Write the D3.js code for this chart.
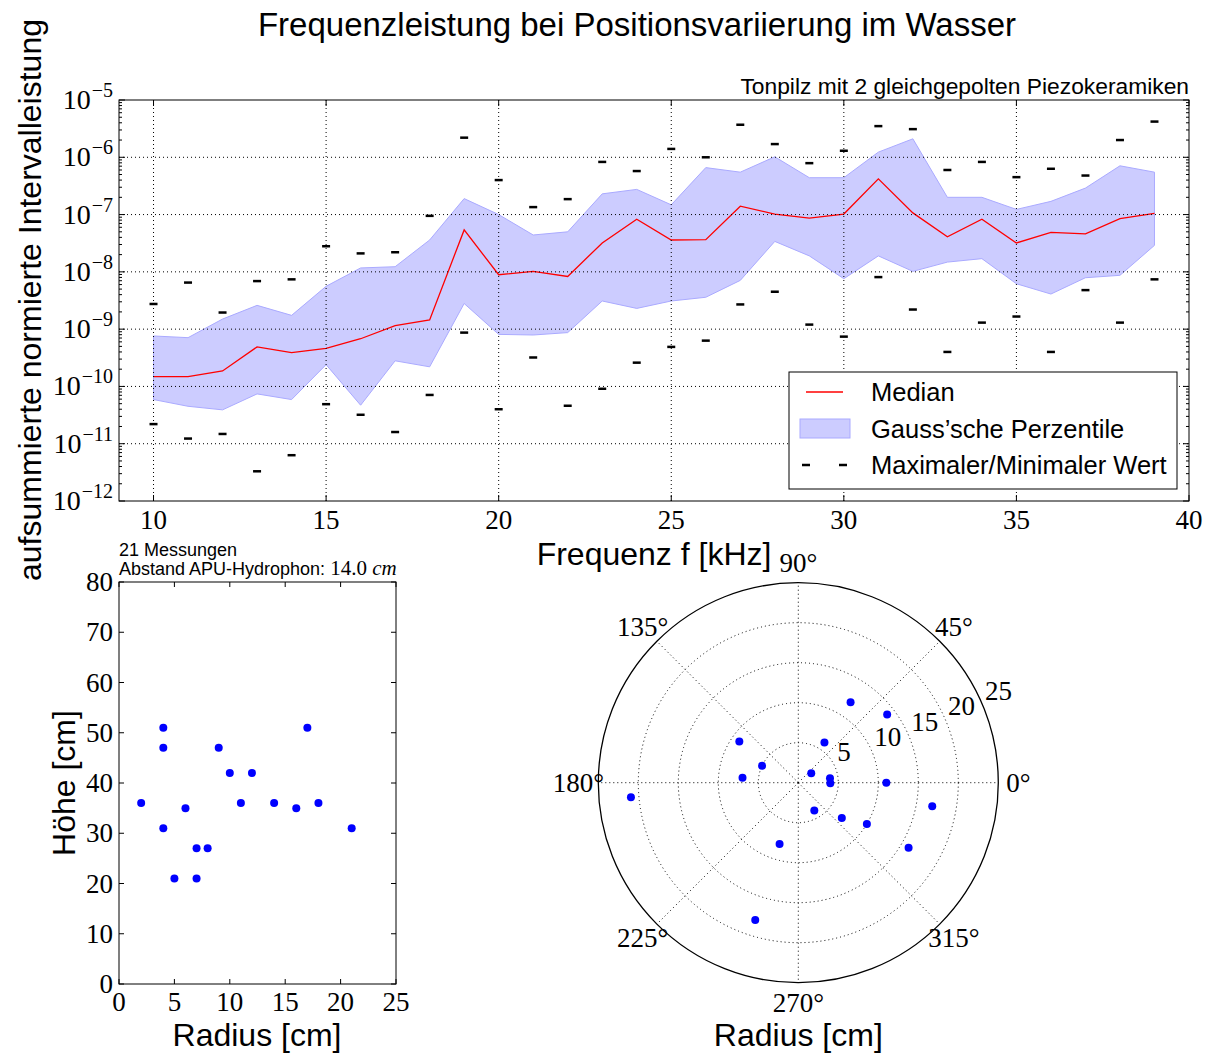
<!DOCTYPE html>
<html>
<head>
<meta charset="utf-8">
<script src="https://cdn.jsdelivr.net/npm/d3@7"></script>
<style>
  body { margin: 0; background: #fff; }
  text { font-family: "Liberation Sans", Arial, sans-serif; fill: #000; }
  .num { font-family: "Liberation Serif", serif; }
</style>
</head>
<body>
<svg width="1214" height="1053"></svg>
<script>
// frequency sweep, kHz
const freq = [10, 11, 12, 13, 14, 15, 16, 17, 18, 19, 20, 21, 22, 23, 24,
  25, 26, 27, 28, 29, 30, 31, 32, 33, 34, 35, 36, 37, 38, 39]

const median = [1.48e-10, 1.48e-10, 1.86e-10, 4.9e-10, 3.9e-10, 4.6e-10, 6.8e-10,
  1.15e-9, 1.45e-9, 5.4e-8, 8.9e-9, 1.02e-8, 8.3e-9, 3.2e-8, 8.3e-8, 3.6e-8,
  3.65e-8, 1.4e-7, 1.02e-7, 8.7e-8, 1.02e-7, 4.2e-7, 1.07e-7, 4.1e-8, 8.3e-8,
  3.2e-8, 4.9e-8, 4.6e-8, 8.5e-8, 1.05e-7]

const upper = [7.6e-10, 7.1e-10, 1.5e-9, 2.6e-9, 1.74e-9, 5.6e-9, 1.17e-8, 1.23e-8,
  3.6e-8, 1.9e-7, 1.0e-7, 4.4e-8, 5.0e-8, 2.3e-7, 2.75e-7, 1.48e-7, 6.6e-7,
  5.5e-7, 1.02e-6, 4.4e-7, 4.4e-7, 1.23e-6, 2.1e-6, 2.0e-7, 2.0e-7, 1.23e-7,
  1.7e-7, 2.9e-7, 7.1e-7, 5.5e-7]

const lower = [5.9e-11, 4.5e-11, 3.9e-11, 7.4e-11, 5.9e-11, 2.4e-10, 4.7e-11, 2.8e-10,
  2.2e-10, 2.8e-9, 8.1e-10, 7.9e-10, 8.7e-10, 3.1e-9, 2.3e-9, 3.1e-9, 3.6e-9,
  7.1e-9, 3.4e-8, 1.9e-8, 7.6e-9, 1.9e-8, 1.02e-8, 1.48e-8, 1.7e-8, 6.2e-9,
  4.1e-9, 7.9e-9, 8.7e-9, 2.9e-8]

const maxVal = [2.75e-9, 6.5e-9, 1.95e-9, 6.9e-9, 7.4e-9, 2.8e-8, 2.1e-8, 2.2e-8,
  9.5e-8, 2.2e-6, 4.0e-7, 1.35e-7, 1.86e-7, 8.3e-7, 5.75e-7, 1.4e-6, 1.0e-6,
  3.7e-6, 1.7e-6, 7.9e-7, 1.3e-6, 3.5e-6, 3.1e-6, 6.0e-7, 8.3e-7, 4.5e-7,
  6.3e-7, 4.8e-7, 2.0e-6, 4.2e-6]

const minVal = [2.2e-11, 1.23e-11, 1.48e-11, 3.3e-12, 6.3e-12, 4.9e-11, 3.2e-11, 1.6e-11,
  7.1e-11, 8.7e-10, 4.0e-11, 3.2e-10, 4.6e-11, 9.1e-11, 2.6e-10, 4.9e-10, 6.3e-10,
  2.7e-9, 4.5e-9, 1.2e-9, 7.4e-10, 8.1e-9, 2.2e-9, 4.0e-10, 1.3e-9, 1.66e-9,
  4.0e-10, 4.8e-9, 1.3e-9, 7.4e-9]

// measurement positions
const radius = [2, 4, 4, 4, 5, 6, 7, 7, 8, 9, 10, 11, 12, 14, 16, 17, 18, 21]
const height = [36, 51, 47, 31, 21, 35, 27, 21, 27, 47, 42, 36, 42, 36, 35, 51, 36, 31]
const angle = [36, 8, -1, -60, 155, 57, 175, -39, 253, 145, -31, 0, 57, 37.5, -30.5, -10, 252.6, 185]

const fTicks = [10, 15, 20, 25, 30, 35, 40]
const decades = [-12, -11, -10, -9, -8, -7, -6, -5]
const rTicks = [0, 5, 10, 15, 20, 25]
const hTicks = [0, 10, 20, 30, 40, 50, 60, 70, 80]
const thetaTicks = [0, 45, 90, 135, 180, 225, 270, 315]
const ringTicks = [5, 10, 15, 20, 25]

var svg = d3.select("svg")

svg.append("text")
  .attr("x", 637).attr("y", 36)
  .attr("text-anchor", "middle")
  .style("font-size", "33px")
  .text("Frequenzleistung bei Positionsvariierung im Wasser")

// ---------- top: spectrum ----------
var
  x = d3.scaleLinear().domain([9, 40]).range([119, 1189]),
  y = d3.scaleLog().domain([1e-12, 1e-5]).range([501, 100])

var spec = svg.append("g")

spec.append("path")
  .datum(freq.map((f, i) => ({ f: f, lo: lower[i], hi: upper[i] })))
  .attr("d", d3.area().x(d => x(d.f)).y0(d => y(d.lo)).y1(d => y(d.hi)))
  .attr("fill", "#ccccff")
  .attr("stroke", "#aaaaff")
  .attr("stroke-width", 1)

spec.append("path")
  .datum(freq.map((f, i) => [f, median[i]]))
  .attr("d", d3.line().x(d => x(d[0])).y(d => y(d[1])))
  .attr("fill", "none")
  .attr("stroke", "red")
  .attr("stroke-width", 1.3)

var extremes = freq.map((f, i) => [f, maxVal[i]]).concat(freq.map((f, i) => [f, minVal[i]]))
spec.selectAll(".mark").data(extremes).enter().append("line")
  .attr("x1", d => x(d[0]) - 4).attr("x2", d => x(d[0]) + 4)
  .attr("y1", d => y(d[1])).attr("y2", d => y(d[1]))
  .attr("stroke", "#000").attr("stroke-width", 2.5)

// grid
spec.selectAll(".gx").data(fTicks.slice(0, -1)).enter().append("line")
  .attr("x1", d => x(d)).attr("x2", d => x(d))
  .attr("y1", 100).attr("y2", 501)
  .attr("stroke", "#000").attr("stroke-dasharray", "1,3")
spec.selectAll(".gy").data(decades.slice(1, -1)).enter().append("line")
  .attr("x1", 119).attr("x2", 1189)
  .attr("y1", d => y(Math.pow(10, d))).attr("y2", d => y(Math.pow(10, d)))
  .attr("stroke", "#000").attr("stroke-dasharray", "1,3")

// ticks
fTicks.forEach(f => {
  spec.append("line").attr("x1", x(f)).attr("x2", x(f)).attr("y1", 501).attr("y2", 495).attr("stroke", "#000")
  spec.append("line").attr("x1", x(f)).attr("x2", x(f)).attr("y1", 100).attr("y2", 106).attr("stroke", "#000")
  spec.append("text").attr("class", "num")
    .attr("x", x(f)).attr("y", 529)
    .attr("text-anchor", "middle")
    .style("font-size", "27px")
    .text(f)
})
decades.forEach(e => {
  var yy = y(Math.pow(10, e))
  spec.append("line").attr("x1", 119).attr("x2", 125).attr("y1", yy).attr("y2", yy).attr("stroke", "#000")
  spec.append("line").attr("x1", 1189).attr("x2", 1183).attr("y1", yy).attr("y2", yy).attr("stroke", "#000")
  var t = spec.append("text").attr("class", "num")
    .attr("x", 113).attr("y", yy + 9)
    .attr("text-anchor", "end")
    .style("font-size", "28px")
  t.append("tspan").text("10")
  t.append("tspan").attr("dx", 1).attr("dy", -12).style("font-size", "20px").text("\u2212" + (-e))
  if (e < -5) {
    for (var m = 2; m < 10; m++) {
      var ym = y(m * Math.pow(10, e))
      spec.append("line").attr("x1", 119).attr("x2", 122).attr("y1", ym).attr("y2", ym).attr("stroke", "#000")
      spec.append("line").attr("x1", 1189).attr("x2", 1186).attr("y1", ym).attr("y2", ym).attr("stroke", "#000")
    }
  }
})

spec.append("rect")
  .attr("x", 119).attr("y", 100).attr("width", 1070).attr("height", 401)
  .attr("fill", "none").attr("stroke", "#000")

spec.append("text")
  .attr("x", 1189).attr("y", 94)
  .attr("text-anchor", "end")
  .style("font-size", "22.8px")
  .text("Tonpilz mit 2 gleichgepolten Piezokeramiken")

spec.append("text")
  .attr("x", 654).attr("y", 565)
  .attr("text-anchor", "middle")
  .style("font-size", "32px")
  .text("Frequenz f [kHz]")

spec.append("text")
  .attr("transform", "translate(41,300) rotate(-90)")
  .attr("text-anchor", "middle")
  .style("font-size", "32px")
  .text("aufsummierte normierte Intervalleistung")

// legend
var legend = spec.append("g")
legend.append("rect")
  .attr("x", 789).attr("y", 372).attr("width", 388).attr("height", 117)
  .attr("fill", "#fff").attr("stroke", "#000")
legend.append("line")
  .attr("x1", 806).attr("x2", 843).attr("y1", 392).attr("y2", 392)
  .attr("stroke", "red").attr("stroke-width", 1.3)
legend.append("rect")
  .attr("x", 800).attr("y", 419).attr("width", 50).attr("height", 19)
  .attr("fill", "#ccccff").attr("stroke", "#aaaaff")
;[806, 843].forEach(lx => {
  legend.append("line")
    .attr("x1", lx - 4).attr("x2", lx + 4).attr("y1", 465).attr("y2", 465)
    .attr("stroke", "#000").attr("stroke-width", 2.5)
})
;["Median", "Gauss\u2019sche Perzentile", "Maximaler/Minimaler Wert"].forEach((s, i) => {
  legend.append("text")
    .attr("x", 871).attr("y", 401 + i * 36.5)
    .style("font-size", "25.5px")
    .text(s)
})

// ---------- bottom left: height over radius ----------
var
  sx = d3.scaleLinear().domain([0, 25]).range([119, 396]),
  sy = d3.scaleLinear().domain([0, 80]).range([984, 582])

var sc = svg.append("g")
sc.selectAll("circle").data(radius).enter().append("circle")
  .attr("cx", (d, i) => sx(d))
  .attr("cy", (d, i) => sy(height[i]))
  .attr("r", 4)
  .attr("fill", "#0000ff")

rTicks.forEach(t => {
  sc.append("line").attr("x1", sx(t)).attr("x2", sx(t)).attr("y1", 984).attr("y2", 979).attr("stroke", "#000")
  sc.append("line").attr("x1", sx(t)).attr("x2", sx(t)).attr("y1", 582).attr("y2", 587).attr("stroke", "#000")
  sc.append("text").attr("class", "num")
    .attr("x", sx(t)).attr("y", 1011)
    .attr("text-anchor", "middle")
    .style("font-size", "27px")
    .text(t)
})
hTicks.forEach(t => {
  sc.append("line").attr("x1", 119).attr("x2", 124).attr("y1", sy(t)).attr("y2", sy(t)).attr("stroke", "#000")
  sc.append("line").attr("x1", 396).attr("x2", 391).attr("y1", sy(t)).attr("y2", sy(t)).attr("stroke", "#000")
  sc.append("text").attr("class", "num")
    .attr("x", 113).attr("y", sy(t) + 9)
    .attr("text-anchor", "end")
    .style("font-size", "27px")
    .text(t)
})
sc.append("rect")
  .attr("x", 119).attr("y", 582).attr("width", 277).attr("height", 402)
  .attr("fill", "none").attr("stroke", "#000")

sc.append("text")
  .attr("x", 119).attr("y", 556)
  .style("font-size", "18px")
  .text("21 Messungen")
var abst = sc.append("text")
  .attr("x", 119).attr("y", 575)
  .style("font-size", "18px")
abst.append("tspan").text("Abstand APU-Hydrophon: ")
abst.append("tspan").attr("class", "num").style("font-size", "21px").text("14.0 ")
abst.append("tspan").attr("class", "num").style("font-size", "21px").style("font-style", "italic").text("cm")

sc.append("text")
  .attr("x", 257).attr("y", 1046)
  .attr("text-anchor", "middle")
  .style("font-size", "32px")
  .text("Radius [cm]")
sc.append("text")
  .attr("transform", "translate(75,783) rotate(-90)")
  .attr("text-anchor", "middle")
  .style("font-size", "32px")
  .text("H\u00f6he [cm]")

// ---------- bottom right: polar positions ----------
var
  cx = 798.3, cy = 782.7,
  pr = d3.scaleLinear().domain([0, 25]).range([0, 200]),
  rad = a => a * Math.PI / 180

var po = svg.append("g")
ringTicks.slice(0, -1).forEach(r => {
  po.append("circle").attr("cx", cx).attr("cy", cy).attr("r", pr(r))
    .attr("fill", "none").attr("stroke", "#000").attr("stroke-dasharray", "1,3")
})
thetaTicks.forEach(a => {
  po.append("line")
    .attr("x1", cx).attr("y1", cy)
    .attr("x2", cx + pr(25) * Math.cos(rad(a)))
    .attr("y2", cy - pr(25) * Math.sin(rad(a)))
    .attr("stroke", "#000").attr("stroke-dasharray", "1,3")
  po.append("text").attr("class", "num")
    .attr("x", cx + pr(27.5) * Math.cos(rad(a)))
    .attr("y", cy - pr(27.5) * Math.sin(rad(a)) + 9)
    .attr("text-anchor", "middle")
    .style("font-size", "27px")
    .text(a + "\u00b0")
})
po.append("circle").attr("cx", cx).attr("cy", cy).attr("r", pr(25))
  .attr("fill", "none").attr("stroke", "#000").attr("stroke-width", 1.3)

ringTicks.forEach(r => {
  po.append("text").attr("class", "num")
    .attr("x", cx + pr(r) * Math.cos(rad(22.5)) + 2)
    .attr("y", cy - pr(r) * Math.sin(rad(22.5)) - 6)
    .style("font-size", "27px")
    .text(r)
})

po.selectAll(".pt").data(radius).enter().append("circle")
  .attr("cx", (d, i) => cx + pr(d) * Math.cos(rad(angle[i])))
  .attr("cy", (d, i) => cy - pr(d) * Math.sin(rad(angle[i])))
  .attr("r", 4)
  .attr("fill", "#0000ff")

po.append("text")
  .attr("x", cx).attr("y", 1046)
  .attr("text-anchor", "middle")
  .style("font-size", "32px")
  .text("Radius [cm]")
</script>
</body>
</html>
